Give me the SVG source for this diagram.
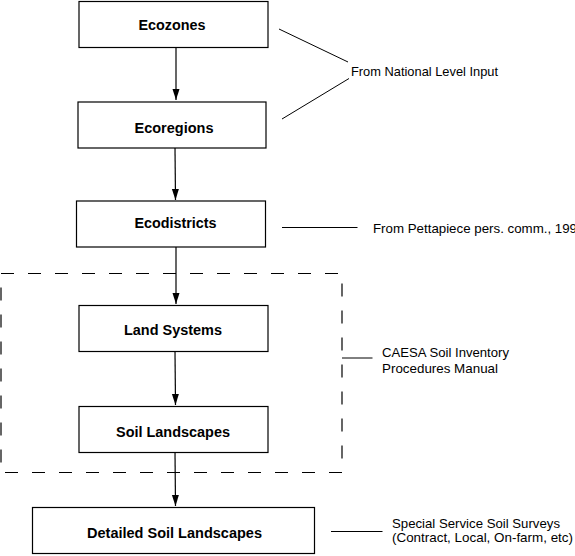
<svg xmlns="http://www.w3.org/2000/svg" width="575" height="556" viewBox="0 0 575 556">
<style>
.box{fill:#fff;stroke:#000;stroke-width:1.2}
.lbl{font-family:"Liberation Sans",Arial,sans-serif;font-weight:bold;font-size:14px;fill:#000;text-anchor:middle}
.note{font-family:"Liberation Sans",Arial,sans-serif;font-size:13px;fill:#000}
.ln{stroke:#000;stroke-width:1;fill:none}
.arr{stroke:#000;stroke-width:1.2;fill:none;marker-end:url(#ah)}
</style>
<defs>
<marker id="ah" markerWidth="12" markerHeight="8" refX="11" refY="4" orient="auto" markerUnits="userSpaceOnUse" viewBox="0 0 12 8">
<path d="M0,0.5 L11,4 L0,7.5 Z" fill="#000"/>
</marker>
</defs>
<rect width="575" height="556" fill="#fff"/>
<g id="connectors">
<line class="arr" x1="176" y1="47" x2="176" y2="100"/>
<line class="arr" x1="175" y1="148" x2="175.5" y2="200"/>
<line class="arr" x1="176" y1="247" x2="176" y2="304"/>
<line class="arr" x1="175" y1="352" x2="175.5" y2="405"/>
<line class="arr" x1="175" y1="452" x2="175.5" y2="506"/>
<line class="ln" x1="279" y1="29" x2="348" y2="62"/>
<line class="ln" x1="282" y1="119" x2="349" y2="78.5"/>
<line class="ln" x1="282" y1="227.5" x2="357.5" y2="227.5"/>
<line class="ln" x1="342" y1="358" x2="372.5" y2="358"/>
<line class="ln" x1="331" y1="531.5" x2="382.5" y2="531.5"/>
</g>
<g id="group-caesa">
<rect x="1" y="273.5" width="341" height="199" fill="none" stroke="#000" stroke-width="1.2" stroke-dasharray="13 14"/>
</g>
<g id="ecozones">
<rect class="box" x="79" y="1.5" width="189" height="46"/>
<text class="lbl" x="172" y="30" textLength="67" lengthAdjust="spacingAndGlyphs">Ecozones</text>
</g>
<g id="ecoregions">
<rect class="box" x="78" y="102" width="188" height="46"/>
<text class="lbl" x="174" y="133" textLength="79" lengthAdjust="spacingAndGlyphs">Ecoregions</text>
</g>
<g id="ecodistricts">
<rect class="box" x="76.5" y="201" width="189" height="46"/>
<text class="lbl" x="175.5" y="227.5" textLength="82" lengthAdjust="spacingAndGlyphs">Ecodistricts</text>
</g>
<g id="land-systems">
<rect class="box" x="79" y="305.5" width="189" height="46"/>
<text class="lbl" x="173" y="335" textLength="98" lengthAdjust="spacingAndGlyphs">Land Systems</text>
</g>
<g id="soil-landscapes">
<rect class="box" x="79" y="406.5" width="189" height="46"/>
<text class="lbl" x="173" y="437" textLength="114" lengthAdjust="spacingAndGlyphs">Soil Landscapes</text>
</g>
<g id="detailed-soil-landscapes">
<rect class="box" x="32.5" y="507.5" width="282" height="46"/>
<text class="lbl" x="174.5" y="538" textLength="175" lengthAdjust="spacingAndGlyphs">Detailed Soil Landscapes</text>
</g>
<g id="notes">
<text class="note" x="351" y="76" textLength="147" lengthAdjust="spacingAndGlyphs">From National Level Input</text>
<text class="note" x="373" y="233" textLength="204" lengthAdjust="spacingAndGlyphs">From Pettapiece pers. comm., 199</text>
<text class="note" x="382" y="357" textLength="127" lengthAdjust="spacingAndGlyphs">CAESA Soil Inventory</text>
<text class="note" x="382" y="372.5" textLength="116" lengthAdjust="spacingAndGlyphs">Procedures Manual</text>
<text class="note" x="392" y="528" textLength="168" lengthAdjust="spacingAndGlyphs">Special Service Soil Surveys</text>
<text class="note" x="392" y="542" textLength="181" lengthAdjust="spacingAndGlyphs">(Contract, Local, On-farm, etc)</text>
</g>
</svg>
